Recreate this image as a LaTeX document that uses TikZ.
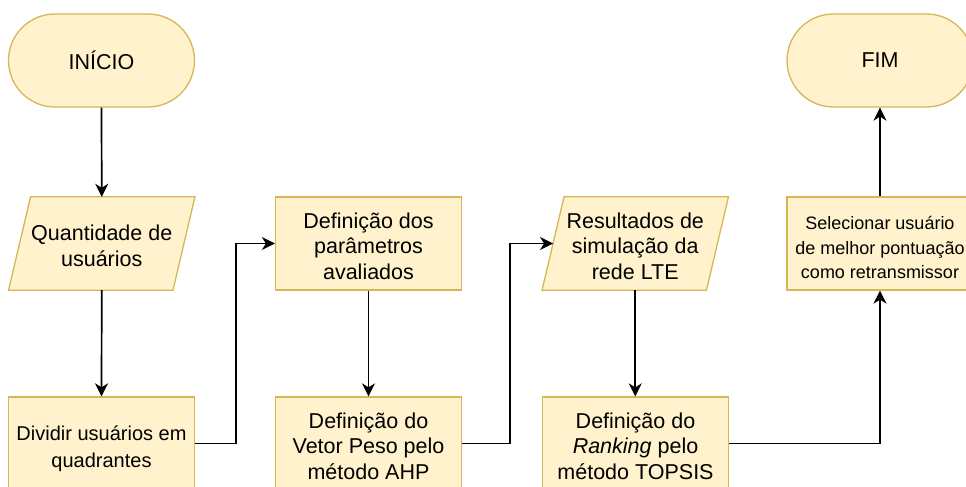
\documentclass[tikz,border=0pt]{standalone}
\usepackage{fontspec}
\setmainfont{Liberation Sans}
\usetikzlibrary{arrows.meta,backgrounds,calc}
\definecolor{boxfill}{HTML}{FFF2CC}
\definecolor{boxdraw}{HTML}{D6B656}
\newcommand\lowr[1]{\rule{0pt}{#1}}
\begin{document}
\begin{tikzpicture}[x=1pt,y=-1pt,
  base/.style={font=\fontsize{21.5}{25.8}\selectfont, align=center, text=black},
  procbox/.style={base, draw=boxdraw, fill=boxfill, line width=1.3pt, minimum width=186pt, minimum height=93pt, inner sep=0pt},
  term/.style={procbox, rounded corners=46.5pt},
  paratext/.style={base, minimum width=164pt, minimum height=93pt, inner sep=0pt},
  parashape/.style={draw=boxdraw, fill=boxfill, line width=1.3pt},
  flow/.style={draw=black, line width=1.7pt, -{Stealth[length=13pt,width=13pt,inset=4pt]}},
]
\useasboundingbox (0,0) rectangle (966,487);

\node[term] (start) at (101.5,60.5) {INÍCIO};
\node[paratext] (qtd) at (101.75,243.5) {\lowr{21pt}Quantidade de\\usuários};
\node[procbox, font=\fontsize{20}{27}\selectfont] (div) at (101.5,443.5) {\lowr{25.6pt}Dividir usuários em\\quadrantes};
\node[procbox] (par) at (368.5,243.5) {\lowr{21pt}Definição dos\\parâmetros\\avaliados};
\node[procbox] (ahp) at (368.5,443.5) {\lowr{21pt}Definição do\\Vetor Peso pelo\\método AHP};
\node[paratext] (res) at (635.25,243.5) {\lowr{21pt}Resultados de\\simulação da\\rede LTE};
\node[procbox] (rank) at (635.5,443.5) {\lowr{21pt}Definição do\\\textit{Ranking} pelo\\método TOPSIS};
\node[procbox, font=\fontsize{18}{24.5}\selectfont] (sel) at (880,243.5) {\lowr{22pt}Selecionar usuário\\de melhor pontuação\\como retransmissor};
\node[term] (fim) at (880,60.5) {FIM};

\begin{scope}[on background layer]
  \foreach \n in {qtd,res}{
    \draw[parashape] ($(\n.south west)+(-11,0)$) -- ($(\n.south east)+(-11,0)$)
      -- ($(\n.north east)+(11,0)$) -- ($(\n.north west)+(11,0)$) -- cycle;
  }
\end{scope}

\coordinate (j1) at (236,443.5);
\coordinate (j2) at (510,443.5);

\draw[flow] (start.south) -- (qtd.north);
\draw[flow] (qtd.south) -- (div.north);
\draw[flow] (div.east) -- (j1) |- (par.west);
\draw[flow] (par.south) -- (ahp.north);
\draw[flow] (ahp.east) -- (j2) |- (res.west);
\draw[flow] (res.south) -- (res.south |- rank.north);
\draw[flow] (rank.east) -| (sel.south);
\draw[flow] (sel.north) -- (fim.south);
\end{tikzpicture}
\end{document}
